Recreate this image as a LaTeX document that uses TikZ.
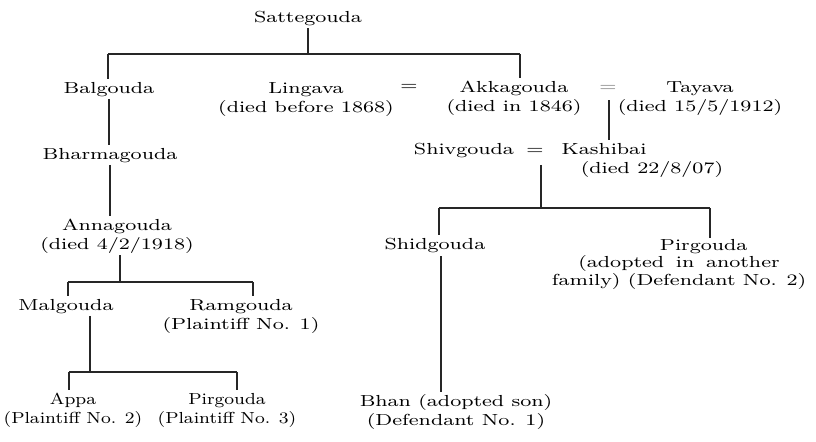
\documentclass[tikz,border=0pt]{standalone}
\usepackage{graphicx}
\newcommand{\ft}[2][1.3]{\scalebox{#1}[1]{\begin{tabular}[t]{@{}c@{}}#2\end{tabular}}}
\tikzset{
  every node/.style={font=\fontsize{8}{9.8}\selectfont, inner sep=0pt, outer sep=0pt},
  person/.style={anchor=base},
  eqsign/.style={anchor=center},
  kin/.style={line width=0.6pt, black!85}
}
\begin{document}
\begin{tikzpicture}[x=0.5pt,y=-0.5pt]
\useasboundingbox (0,0) rectangle (816,441);
% persons
\node[person] (satt) at (308,22) {\ft{Sattegouda}};
\node[person] (balg) at (109,93) {\ft{Balgouda}};
\node[person] (ling) at (306,93) {\ft{Lingava\\(died before 1868)}};
\node[eqsign] (eq1) at (409,87) {\ft{=}};
\node[person] (akka) at (514,92) {\ft{Akkagouda\\(died in 1846)}};
\node[eqsign, text=black!50] (eq2) at (608,88) {\ft{=}};
\node[person] (taya) at (700,92) {\ft{Tayava\\(died 15/5/1912)}};
\node[person] (bharm) at (110,159) {\ft{Bharmagouda}};
\node[person] (shiv) at (464,154) {\ft{Shivgouda}};
\node[eqsign] (eq3) at (535,151) {\ft{=}};
\node[person] (kash) at (604,154) {\ft{Kashibai}};
\node[person] (kdied) at (652,173) {\ft{(died 22/8/07)}};
\node[person] (anna) at (117,230) {\ft{Annagouda\\(died 4/2/1918)}};
\node[person] (shid) at (435,249) {\ft{Shidgouda}};
\node[person, font=\fontsize{8}{8.9}\selectfont] (pirg2) at (679,250)
  {\ft{\hspace*{19pt}Pirgouda\\(adopted\hspace{4.5pt}in\hspace{4.5pt}another\\family) (Defendant No. 2)}};
\node[person] (malg) at (66,310) {\ft{Malgouda}};
\node[person] (ramg) at (241,310) {\ft{Ramgouda\\(Plaintiff No. 1)}};
\node[person] (appa) at (73,404) {\ft[1.15]{Appa\\(Plaintiff No. 2)}};
\node[person] (pirg1) at (227,404) {\ft[1.15]{Pirgouda\\(Plaintiff No. 3)}};
\node[person] (bhau) at (456,406) {\ft{Bhan (adopted son)\\(Defendant No. 1)}};
% junction coordinates
\coordinate (b1L) at (108,54);
\coordinate (b1R) at (520,54);
\coordinate (b2) at (120,282);
\coordinate (b2L) at (68,282);
\coordinate (b2R) at (253,282);
\coordinate (b3) at (90,372);
\coordinate (b3L) at (69,372);
\coordinate (b3R) at (237,372);
\coordinate (b4) at (541,208);
\coordinate (b4L) at (439,208);
\coordinate (b4R) at (710,208);
\coordinate (kv) at (609,100);
\coordinate (sv) at (441,256);
% connectors
\draw[kin] (satt.south) -- (satt.south |- b1L);
\draw[kin] (b1L) -- (b1R);
\draw[kin] (b1L) -- (b1L |- balg.north);
\draw[kin] (b1R) -- (b1R |- akka.north);
\draw[kin] (balg.south) -- (balg.south |- bharm.north);
\draw[kin] (bharm.south) -- (bharm.south |- anna.north);
\draw[kin] (anna.south -| b2) -- (b2);
\draw[kin] (b2L) -- (b2R);
\draw[kin] (b2L) -- (b2L |- malg.north);
\draw[kin] (b2R) -- (b2R |- ramg.north);
\draw[kin] (malg.south -| b3) -- (b3);
\draw[kin] (b3L) -- (b3R);
\draw[kin] (b3L) -- (b3L |- appa.north);
\draw[kin] (b3R) -- (b3R |- pirg1.north);
\draw[kin] (kv) -- (kv |- kash.north);
\draw[kin] (eq3.south -| b4) ++(0,4) -- (b4);
\draw[kin] (b4L) -- (b4R);
\draw[kin] (b4L) -- (b4L |- shid.north);
\draw[kin] (b4R) -- (b4R |- pirg2.north);
\draw[kin] (sv) -- (sv |- bhau.north);
\end{tikzpicture}
\end{document}
